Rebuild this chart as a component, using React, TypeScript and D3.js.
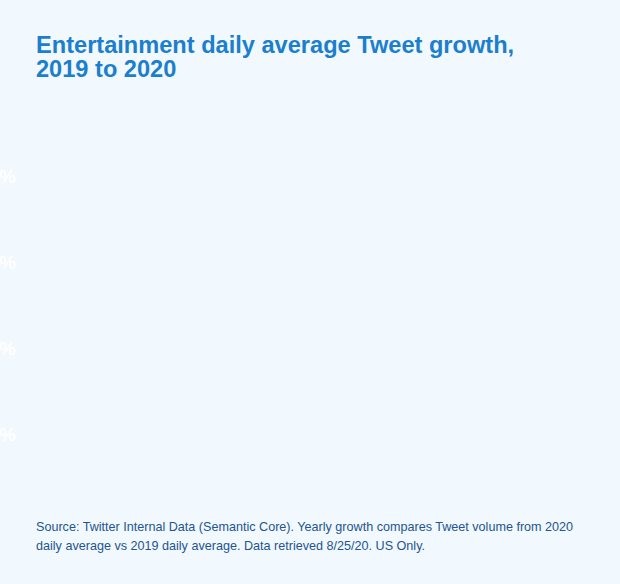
import { useEffect, useRef } from 'react'
import * as d3 from 'd3'

// y axis tick labels (only the "%" part sits inside the frame)
const yTicks = [0, 20, 40, 60]
const yDomain = [0, 60]

const titleLines = ['Entertainment daily average Tweet growth,', '2019 to 2020']
const sourceLines = [
  'Source: Twitter Internal Data (Semantic Core). Yearly growth compares Tweet volume from 2020',
  'daily average vs 2019 daily average. Data retrieved 8/25/20. US Only.',
]

const width = 620
const height = 584

export default function App() {
  const svgRef = useRef<SVGSVGElement>(null)

  useEffect(() => {
    if (!svgRef.current) return
    const svg = d3.select(svgRef.current)
    svg.selectAll('*').remove()

    const margin = { top: 176, bottom: 150, left: 16 }

    svg
      .append('rect')
      .attr('width', width)
      .attr('height', height)
      .attr('fill', '#f1f8fe')

    // Title
    svg
      .append('g')
      .selectAll('text')
      .data(titleLines)
      .enter()
      .append('text')
      .attr('x', 36)
      .attr('y', (_, i) => 53 + i * 24)
      .attr('fill', '#1b7fce')
      .attr('font-family', '"Liberation Sans", Arial, sans-serif')
      .attr('font-weight', 700)
      .attr('font-size', '23.6px')
      .text((d) => d)

    // Y axis
    const yScale = d3
      .scaleLinear()
      .domain(yDomain)
      .range([height - margin.bottom, margin.top])

    const axis = svg
      .append('g')
      .attr('transform', `translate(${margin.left},0)`)
      .call(
        d3
          .axisLeft(yScale)
          .tickValues(yTicks)
          .tickSize(0)
          .tickPadding(0)
          .tickFormat((d) => `${d}%`)
      )
    axis.select('.domain').remove()
    axis
      .selectAll('text')
      .attr('fill', '#ffffff')
      .attr('font-family', '"Liberation Sans", Arial, sans-serif')
      .attr('font-weight', 700)
      .attr('font-size', '19px')

    // Source note
    svg
      .append('g')
      .selectAll('text')
      .data(sourceLines)
      .enter()
      .append('text')
      .attr('x', 36)
      .attr('y', (_, i) => 531 + i * 19)
      .attr('fill', '#24558f')
      .attr('font-family', '"Liberation Sans", Arial, sans-serif')
      .attr('font-size', '12.6px')
      .text((d) => d)
  }, [])

  return (
    <svg
      ref={svgRef}
      width={width}
      height={height}
      style={{ position: 'absolute', left: 0, top: 0, display: 'block' }}
    />
  )
}
